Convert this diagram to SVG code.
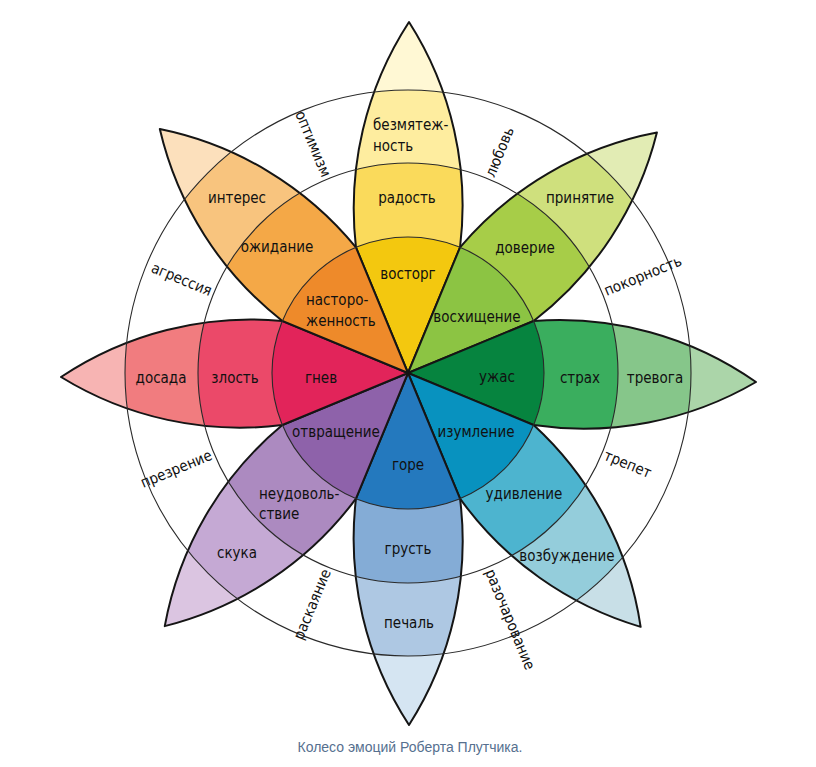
<svg xmlns="http://www.w3.org/2000/svg" xmlns:xlink="http://www.w3.org/1999/xlink" width="816" height="767" viewBox="0 0 816 767">
<style>
.ol{fill:none;stroke:#151515;stroke-width:2;stroke-linejoin:round}
.ring{fill:none;stroke:#2a2a2a;stroke-width:1.1}
text{font-family:"DejaVu Sans Condensed","DejaVu Sans",sans-serif;font-size:15px;fill:#111}
.c{text-anchor:middle;dominant-baseline:central}
.l{text-anchor:start;dominant-baseline:central}
.o{text-anchor:start;dominant-baseline:central}
.i{text-anchor:end;dominant-baseline:central}
.cap{font-family:"Liberation Sans",Arial,sans-serif;font-size:14px;fill:#56708f;text-anchor:middle}
</style>
<defs>
<path id="p0" d="M0,0 L52.04,-125.65 A341.8,341.8 0 0 0 1,-351 A341.8,341.8 0 0 0 -52.04,-125.65 Z"/>
<path id="p1" d="M0,0 L52.04,-125.65 A341.8,341.8 0 0 0 6,-346 A341.8,341.8 0 0 0 -52.04,-125.65 Z"/>
<path id="p2" d="M0,0 L52.04,-125.65 A341.8,341.8 0 0 0 9,-348 A341.8,341.8 0 0 0 -52.04,-125.65 Z"/>
<path id="p3" d="M0,0 L52.04,-125.65 A341.8,341.8 0 0 0 15,-344 A341.8,341.8 0 0 0 -52.04,-125.65 Z"/>
<path id="p4" d="M0,0 L52.04,-125.65 A341.8,341.8 0 0 0 -1,-352 A341.8,341.8 0 0 0 -52.04,-125.65 Z"/>
<path id="p5" d="M0,0 L52.04,-125.65 A341.8,341.8 0 0 0 -7,-351 A341.8,341.8 0 0 0 -52.04,-125.65 Z"/>
<path id="p6" d="M0,0 L52.04,-125.65 A341.8,341.8 0 0 0 -4,-347 A341.8,341.8 0 0 0 -52.04,-125.65 Z"/>
<path id="p7" d="M0,0 L52.04,-125.65 A341.8,341.8 0 0 0 -3,-348 A341.8,341.8 0 0 0 -52.04,-125.65 Z"/>
<clipPath id="c0"><use xlink:href="#p0"/></clipPath>
<clipPath id="c1"><use xlink:href="#p1"/></clipPath>
<clipPath id="c2"><use xlink:href="#p2"/></clipPath>
<clipPath id="c3"><use xlink:href="#p3"/></clipPath>
<clipPath id="c4"><use xlink:href="#p4"/></clipPath>
<clipPath id="c5"><use xlink:href="#p5"/></clipPath>
<clipPath id="c6"><use xlink:href="#p6"/></clipPath>
<clipPath id="c7"><use xlink:href="#p7"/></clipPath>
</defs>
<rect width="816" height="767" fill="#fff"/>

<g id="joy" transform="translate(408 373) rotate(0)">
<g clip-path="url(#c0)"><circle r="360" fill="#FFF8D4"/><circle r="283" fill="#FEED9F"/><circle r="210" fill="#FADA5B"/><circle r="136" fill="#F3C80F"/></g>
<use xlink:href="#p0" class="ol"/>
</g>
<g id="trust" transform="translate(408 373) rotate(45)">
<g clip-path="url(#c1)"><circle r="360" fill="#E2ECB4"/><circle r="283" fill="#CFE07D"/><circle r="210" fill="#A7CD48"/><circle r="136" fill="#8CC443"/></g>
<use xlink:href="#p1" class="ol"/>
</g>
<g id="fear" transform="translate(408 373) rotate(90)">
<g clip-path="url(#c2)"><circle r="360" fill="#ABD5A9"/><circle r="283" fill="#86C68A"/><circle r="210" fill="#3AAE5E"/><circle r="136" fill="#06843F"/></g>
<use xlink:href="#p2" class="ol"/>
</g>
<g id="surprise" transform="translate(408 373) rotate(135)">
<g clip-path="url(#c3)"><circle r="360" fill="#C8DFE7"/><circle r="283" fill="#94CDDB"/><circle r="210" fill="#4DB4CF"/><circle r="136" fill="#0892BF"/></g>
<use xlink:href="#p3" class="ol"/>
</g>
<g id="sadness" transform="translate(408 373) rotate(180)">
<g clip-path="url(#c4)"><circle r="360" fill="#D5E5F2"/><circle r="283" fill="#AEC8E3"/><circle r="210" fill="#84ACD6"/><circle r="136" fill="#2479BE"/></g>
<use xlink:href="#p4" class="ol"/>
</g>
<g id="disgust" transform="translate(408 373) rotate(225)">
<g clip-path="url(#c5)"><circle r="360" fill="#DBC5E1"/><circle r="283" fill="#C5A9D4"/><circle r="210" fill="#AC8AC0"/><circle r="136" fill="#8E62AA"/></g>
<use xlink:href="#p5" class="ol"/>
</g>
<g id="anger" transform="translate(408 373) rotate(270)">
<g clip-path="url(#c6)"><circle r="360" fill="#F7B4B3"/><circle r="283" fill="#F17C7F"/><circle r="210" fill="#EB4969"/><circle r="136" fill="#E2245A"/></g>
<use xlink:href="#p6" class="ol"/>
</g>
<g id="anticipation" transform="translate(408 373) rotate(315)">
<g clip-path="url(#c7)"><circle r="360" fill="#FCE0BC"/><circle r="283" fill="#F8C47E"/><circle r="210" fill="#F4A847"/><circle r="136" fill="#EE8A2A"/></g>
<use xlink:href="#p7" class="ol"/>
</g>

<g id="rings">
<circle class="ring" cx="408" cy="373" r="136"/>
<circle class="ring" cx="408" cy="373" r="210"/>
<circle class="ring" cx="408" cy="373" r="283"/>
</g>

<g id="labels-inner">
<text class="c" x="408" y="274">восторг</text>
<text class="l" x="306" y="300">насторо-</text>
<text class="l" x="306" y="321">женность</text>
<text class="c" x="477" y="317">восхищение</text>
<text class="c" x="321" y="378">гнев</text>
<text class="c" x="497" y="377">ужас</text>
<text class="c" x="336" y="432">отвращение</text>
<text class="c" x="476" y="432">изумление</text>
<text class="c" x="408" y="465">горе</text>
</g>
<g id="labels-middle">
<text class="c" x="407" y="198">радость</text>
<text class="c" x="277" y="247">ожидание</text>
<text class="c" x="525" y="248">доверие</text>
<text class="c" x="235" y="378">злость</text>
<text class="c" x="580" y="378">страх</text>
<text class="l" x="259" y="494">неудоволь-</text>
<text class="l" x="259" y="514">ствие</text>
<text class="c" x="408" y="549">грусть</text>
<text class="c" x="524" y="494">удивление</text>
</g>
<g id="labels-outer">
<text class="l" x="373" y="125">безмятеж-</text>
<text class="l" x="373" y="146">ность</text>
<text class="c" x="237" y="198">интерес</text>
<text class="c" x="580" y="198">принятие</text>
<text class="c" x="161" y="378">досада</text>
<text class="c" x="655" y="378">тревога</text>
<text class="c" x="237" y="553">скука</text>
<text class="c" x="409" y="623">печаль</text>
<text class="c" x="567" y="556">возбуждение</text>
</g>
<g id="labels-dyads">
<text class="i" x="195" y="373" transform="rotate(67.5 408 373)">оптимизм</text>
<text class="o" x="621" y="373" transform="rotate(-67.5 408 373)">любовь</text>
<text class="o" x="621" y="373" transform="rotate(-22.5 408 373)">покорность</text>
<text class="o" x="621" y="373" transform="rotate(22.5 408 373)">трепет</text>
<text class="o" x="621" y="373" transform="rotate(67.5 408 373)">разочарование</text>
<text class="i" x="195" y="373" transform="rotate(-67.5 408 373)">раскаяние</text>
<text class="i" x="195" y="373" transform="rotate(-22.5 408 373)">презрение</text>
<text class="i" x="195" y="373" transform="rotate(22.5 408 373)">агрессия</text>
</g>
<text class="cap" x="410" y="752">Колесо эмоций Роберта Плутчика.</text>
</svg>
